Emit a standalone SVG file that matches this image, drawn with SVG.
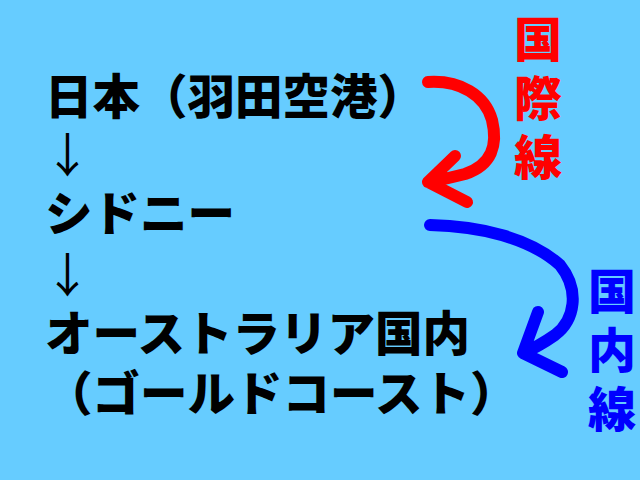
<svg xmlns="http://www.w3.org/2000/svg" width="640" height="480" viewBox="0 0 640 480">
<style>
.t{font-family:"Noto Sans CJK JP","Noto Sans CJK SC",sans-serif;font-weight:900;font-size:47.5px;fill:#000}
.ar{font-family:"Noto Sans CJK JP",sans-serif;font-weight:normal;font-size:47px;fill:#000}
.v{font-family:"Noto Sans CJK JP","Noto Sans CJK SC",sans-serif;font-weight:900;font-size:48px;writing-mode:vertical-rl;letter-spacing:11px}
.c{fill:none;stroke-width:12;stroke-linecap:round;stroke-linejoin:round}
</style>
<rect width="640" height="480" fill="#66CCFF"/>
<g id="japan"><text class="t" x="45" y="114">日本（羽田空港）</text></g>
<g id="arrow1"><text class="ar" x="44" y="172">↓</text></g>
<g id="sydney"><text class="t" x="45" y="231">シドニー</text></g>
<g id="arrow2"><text class="ar" x="44" y="292">↓</text></g>
<g id="australia"><text class="t" x="45" y="351">オーストラリア国内</text><text class="t" x="45" y="411">（ゴールドコースト）</text></g>
<g id="intl-label"><text class="v" fill="#FF0000" x="538" y="15">国際線</text></g>
<g id="dom-label"><text class="v" fill="#0000FF" x="612" y="267">国内線</text></g>
<g id="connectors">
<path class="c" stroke="#FF0000" d="M428,82 C460,80 485,95 492,120 C498,145 492,165 465,174 C450,178 440,180 428,182 M455,156 L428,182 L467,202"/>
<path class="c" stroke="#0000FF" d="M430,225 C480,226 530,238 560,265 C580,290 575,320 555,335 C545,342 535,348 523,353 M538,312 L523,353 L562,372"/>
</g>
</svg>
